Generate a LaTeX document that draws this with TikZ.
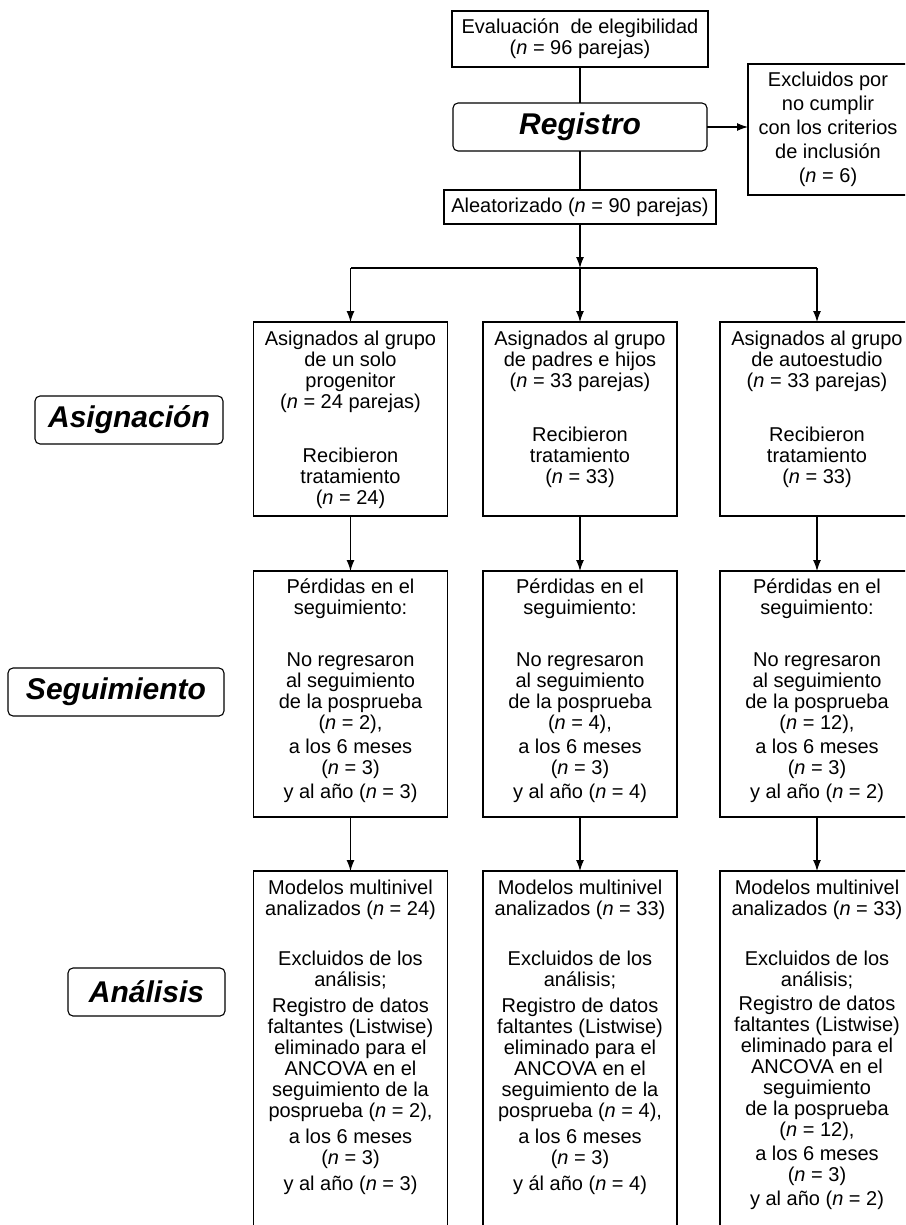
\documentclass[tikz,border=0pt]{standalone}
\usepackage{fontspec}
\setmainfont{Liberation Sans}
\usetikzlibrary{arrows.meta}
\begin{document}
\begin{tikzpicture}[x=1pt,y=-1pt,
  frame/.style={draw, line width=1.1pt, rectangle, inner sep=0pt, outer sep=0pt},
  head/.style={frame, rounded corners=5pt, font=\fontsize{30}{32}\selectfont\bfseries\itshape},
  bodyfont/.style={font=\fontsize{20}{21}\selectfont},
  body/.style={bodyfont, align=center, inner sep=0pt, outer sep=0pt},
  arr/.style={line width=1.1pt, -{Latex[length=11pt,width=8pt]}},
  ln/.style={line width=1.1pt}]
\useasboundingbox (0,0) rectangle (905,1225);
\clip (0,0) rectangle (905,1225);

% top part
\node[frame, bodyfont, align=center, minimum width=256, minimum height=56] (eleg) at (580,39)
  {Evaluación\ \ de elegibilidad\\(\textit{n} = 96 parejas)};
\node[head, minimum width=254, minimum height=48] (reg) at (580,127) {Registro};
\node[frame, bodyfont, align=center, minimum width=160, minimum height=131, anchor=north west] (excl) at (748,64)
  {Excluidos por\\[3pt]no cumplir\\[3pt]con los criterios\\[3pt]de inclusión\\[3pt](\textit{n} = 6)};
\node[frame, bodyfont, minimum width=272, minimum height=34] (alea) at (580,207)
  {Aleatorizado (\textit{n} = 90 parejas)};
\coordinate (split) at (580,268);

% stage labels
\node[head, minimum width=188, minimum height=48, anchor=east] (hasig) at (223,420) {Asignación};
\node[head, minimum width=216, minimum height=48, anchor=east] (hseg) at (224,692) {Seguimiento};
\node[head, minimum width=157, minimum height=48, anchor=east] (hana) at (225,992) {Análisis};

% column boxes
\foreach \c/\x in {1/350.5, 2/580, 3/817} {
  \node[frame, minimum width=194, minimum height=194] (a\c) at (\x,419) {};
  \node[frame, minimum width=194, minimum height=246] (s\c) at (\x,694) {};
  \node[frame, minimum width=194, minimum height=369] (m\c) at (\x,1055.5) {};
}

% row 1 texts
\node[body, anchor=north] (ta1) at ([yshift=-9pt]a1.north)
  {Asignados al grupo\\de un solo\\progenitor\\(\textit{n} = 24 parejas)\\[33pt]Recibieron\\tratamiento\\(\textit{n} = 24)};
\node[body, anchor=north] (ta2) at ([yshift=-9pt]a2.north)
  {Asignados al grupo\\de padres e hijos\\(\textit{n} = 33 parejas)\\[33pt]Recibieron\\tratamiento\\(\textit{n} = 33)};
\node[body, anchor=north] (ta3) at ([yshift=-9pt]a3.north)
  {Asignados al grupo\\de autoestudio\\(\textit{n} = 33 parejas)\\[33pt]Recibieron\\tratamiento\\(\textit{n} = 33)};

% row 2 texts
\node[body, anchor=north] (ts1) at ([yshift=-8pt]s1.north)
  {Pérdidas en el\\seguimiento:\\[31pt]No regresaron\\al seguimiento\\de la posprueba\\(\textit{n} = 2),\\[3pt]a los 6 meses\\(\textit{n} = 3)\\[3pt]y al año (\textit{n} = 3)};
\node[body, anchor=north] (ts2) at ([yshift=-8pt]s2.north)
  {Pérdidas en el\\seguimiento:\\[31pt]No regresaron\\al seguimiento\\de la posprueba\\(\textit{n} = 4),\\[3pt]a los 6 meses\\(\textit{n} = 3)\\[3pt]y al año (\textit{n} = 4)};
\node[body, anchor=north] (ts3) at ([yshift=-8pt]s3.north)
  {Pérdidas en el\\seguimiento:\\[31pt]No regresaron\\al seguimiento\\de la posprueba\\(\textit{n} = 12),\\[3pt]a los 6 meses\\(\textit{n} = 3)\\[3pt]y al año (\textit{n} = 2)};

% row 3 texts
\node[body, anchor=north] (tm1) at ([yshift=-9pt]m1.north)
  {Modelos multinivel\\analizados (\textit{n} = 24)\\[29pt]Excluidos de los\\análisis;\\[5pt]Registro de datos\\faltantes (Listwise)\\eliminado para el\\ANCOVA en el\\seguimiento de la\\posprueba (\textit{n} = 2),\\[5pt]a los 6 meses\\(\textit{n} = 3)\\[5pt]y al año (\textit{n} = 3)};
\node[body, anchor=north] (tm2) at ([yshift=-9pt]m2.north)
  {Modelos multinivel\\analizados (\textit{n} = 33)\\[29pt]Excluidos de los\\análisis;\\[5pt]Registro de datos\\faltantes (Listwise)\\eliminado para el\\ANCOVA en el\\seguimiento de la\\posprueba (\textit{n} = 4),\\[5pt]a los 6 meses\\(\textit{n} = 3)\\[5pt]y ál año (\textit{n} = 4)};
\node[body, anchor=north] (tm3) at ([yshift=-9pt]m3.north)
  {Modelos multinivel\\analizados (\textit{n} = 33)\\[29pt]Excluidos de los\\análisis;\\[3pt]Registro de datos\\faltantes (Listwise)\\eliminado para el\\ANCOVA en el\\seguimiento\\de la posprueba\\(\textit{n} = 12),\\[3pt]a los 6 meses\\(\textit{n} = 3)\\[3pt]y al año (\textit{n} = 2)};

% connectors
\draw[ln] (eleg.south) -- (reg.north);
\draw[ln] (reg.south) -- (alea.north);
\draw[arr] (reg.east) -- (reg.east -| excl.west);
\draw[arr] (alea.south) -- (split);
\draw[ln] (split) -- (split -| a1.north);
\draw[ln] (split) -- (split -| a3.north);
\draw[arr] (split -| a1.north) -- (a1.north);
\draw[arr] (split) -- (a2.north);
\draw[arr] (split -| a3.north) -- (a3.north);
\foreach \c in {1,2,3} {
  \draw[arr] (a\c.south) -- (s\c.north);
  \draw[arr] (s\c.south) -- (m\c.north);
}
\end{tikzpicture}
\end{document}
